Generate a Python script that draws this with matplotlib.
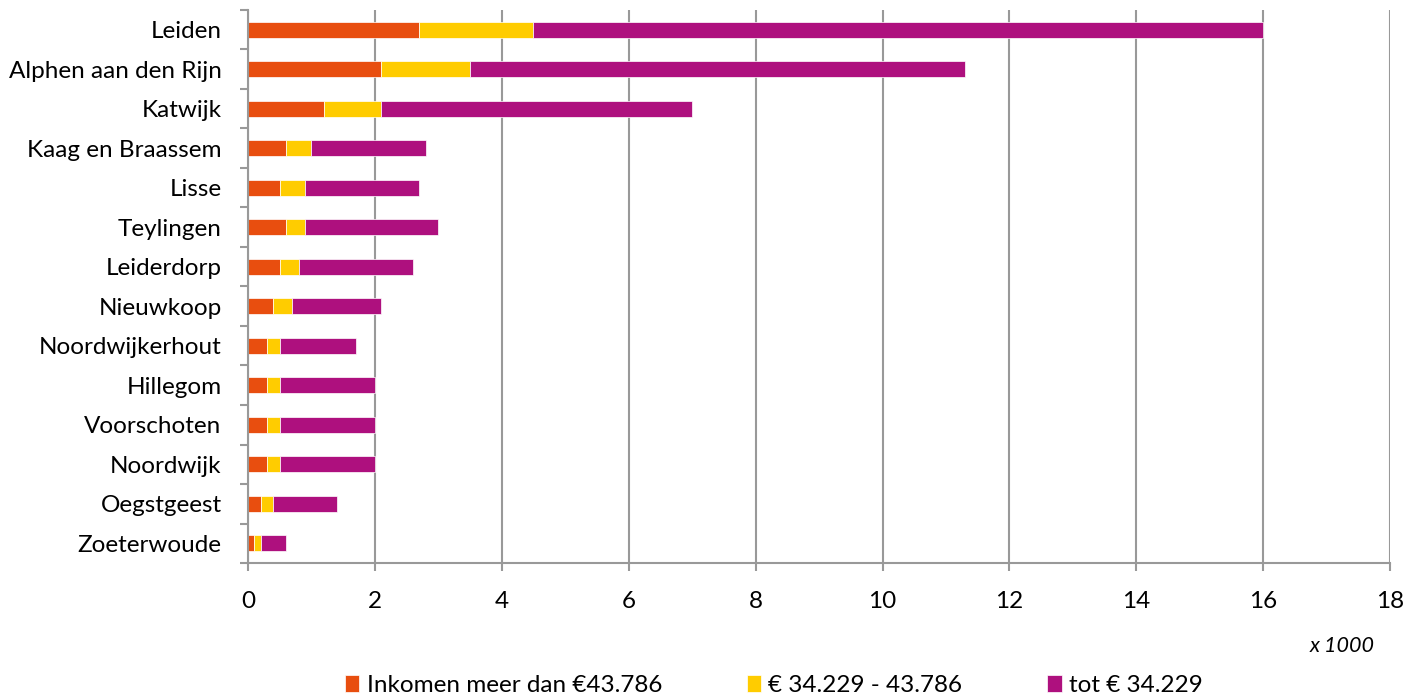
import matplotlib.pyplot as plt
import numpy as np

gemeenten = ['Leiden', 'Alphen aan den Rijn', 'Katwijk', 'Kaag en Braassem', 'Lisse',
             'Teylingen', 'Leiderdorp', 'Nieuwkoop', 'Noordwijkerhout', 'Hillegom',
             'Voorschoten', 'Noordwijk', 'Oegstgeest', 'Zoeterwoude']
# x 1000 huishoudens
hoog = [2.7, 2.1, 1.2, 0.6, 0.5, 0.6, 0.5, 0.4, 0.3, 0.3, 0.3, 0.3, 0.2, 0.1]
midden = [1.8, 1.4, 0.9, 0.4, 0.4, 0.3, 0.3, 0.3, 0.2, 0.2, 0.2, 0.2, 0.2, 0.1]
laag = [11.5, 7.8, 4.9, 1.8, 1.8, 2.1, 1.8, 1.4, 1.2, 1.5, 1.5, 1.5, 1.0, 0.4]

labels = ['Inkomen meer dan €43.786', '€ 34.229 - 43.786', 'tot € 34.229']
kleuren = ['#E84E0F', '#FFCC00', '#AE107E']

plt.rcParams['font.family'] = ['Lato', 'DejaVu Sans']

fig = plt.figure(figsize=(14.2, 6.98), dpi=100)
ax = fig.add_axes([0.1746, 0.1934, 0.8044, 0.7923])

y = np.arange(len(gemeenten))
hoog = np.array(hoog)
midden = np.array(midden)
laag = np.array(laag)

ax.barh(y, hoog, height=0.4, color=kleuren[0], edgecolor='white', linewidth=0.5, label=labels[0])
ax.barh(y, midden, left=hoog, height=0.4, color=kleuren[1], edgecolor='white', linewidth=0.5, label=labels[1])
ax.barh(y, laag, left=hoog + midden, height=0.4, color=kleuren[2], edgecolor='white', linewidth=0.5, label=labels[2])

ax.set_ylim(len(gemeenten) - 0.5, -0.5)
ax.set_xlim(0, 18)
ax.set_xticks(range(0, 19, 2))
ax.set_yticks(y)
ax.set_yticklabels(gemeenten)
ax.set_yticks(np.arange(-0.5, len(gemeenten), 1), minor=True)
ax.tick_params(axis='y', which='major', length=0, pad=19, labelsize=17.5)
ax.tick_params(axis='y', which='minor', length=6, color='#999999', width=1.5)
ax.tick_params(axis='x', length=6, color='#999999', width=1.5, labelsize=17.5, pad=14)

ax.grid(axis='x', color='#999999', linewidth=1.5)
ax.set_axisbelow(True)
for s in ['top', 'right']:
    ax.spines[s].set_visible(False)
for s in ['left', 'bottom']:
    ax.spines[s].set_color('#999999')
    ax.spines[s].set_linewidth(1.5)

fig.text(0.968, 0.075, 'x 1000', style='italic', fontsize=15.5, ha='right', va='center')

fig.legend(loc='center', bbox_to_anchor=(0.545, 0.018), ncol=3, frameon=False,
           fontsize=17.5, handlelength=0.58, handleheight=0.67, handletextpad=0.3,
           columnspacing=3.5, borderpad=0)

fig.savefig('out.png', dpi=100)
